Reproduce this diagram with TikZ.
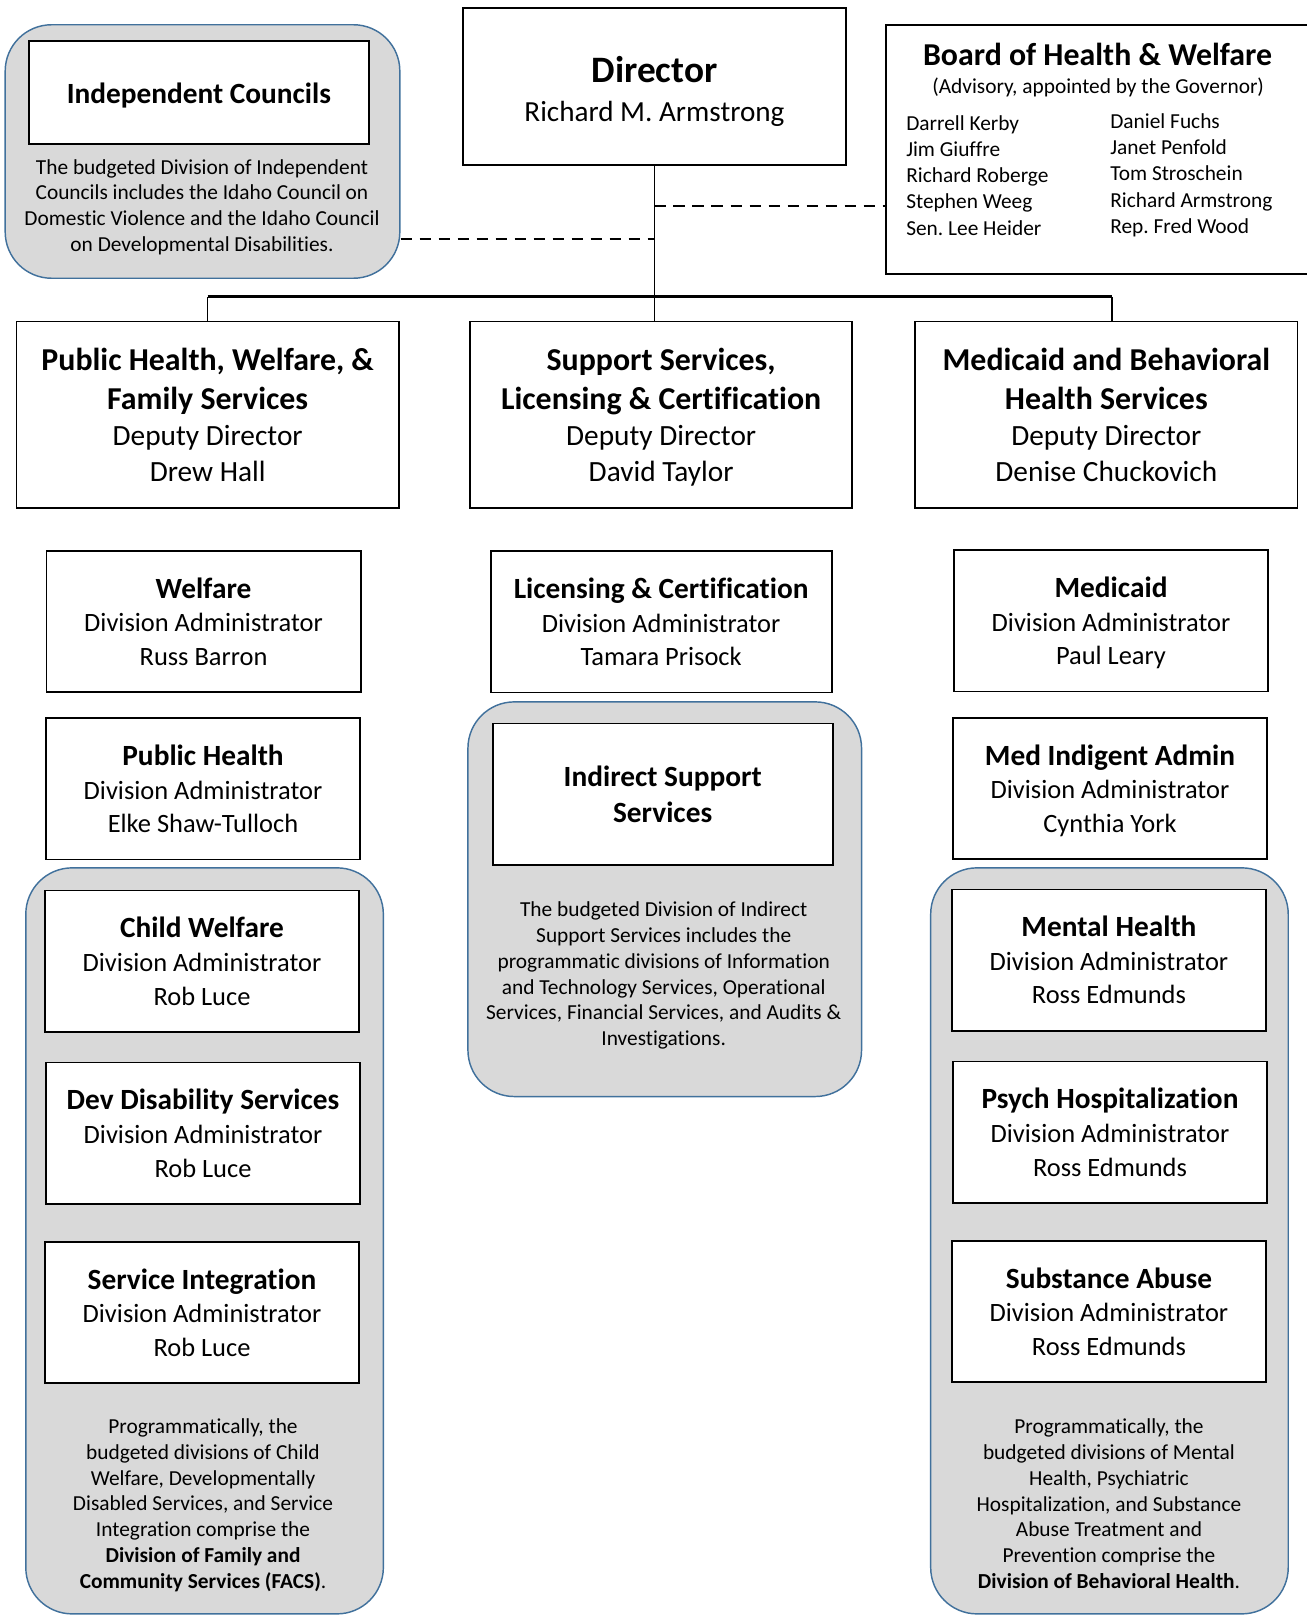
\documentclass[tikz,border=0pt]{standalone}
\usepackage{fontspec}
\setmainfont{Carlito}[Ligatures=NoCommon]
\frenchspacing
\usetikzlibrary{positioning}
\definecolor{grpfill}{HTML}{D9D9D9}
\definecolor{grpline}{HTML}{41719C}
\newcommand{\ptext}{\fontsize{11.8}{14.3}\selectfont}
\newcommand{\ubody}{\fontsize{14.6}{18.6}\selectfont}
\newcommand{\utitle}{\fontsize{16.2}{18.6}\selectfont\bfseries}
\newcommand{\dbody}{\fontsize{16.2}{20}\selectfont}
\newcommand{\dtitle}{\fontsize{17.6}{21.6}\selectfont\bfseries}
\tikzstyle{unit}=[rectangle, align=center, fill=white, draw=black, line width=1pt, minimum width=6.1cm, minimum height=2.74cm, inner sep=0pt, text depth=0pt, font=\ubody]
\tikzstyle{deputy}=[unit, minimum width=7.42cm, minimum height=3.62cm, font=\dbody]
\tikzstyle{group}=[rectangle, rounded corners=0.9cm, fill=grpfill, draw=grpline, line width=0.8pt, inner sep=0pt]
\tikzstyle{note}=[align=center, font=\ptext, inner sep=0pt]
\tikzstyle{link}=[draw=black, line width=0.9pt]
\tikzstyle{buslink}=[draw=black, line width=1.5pt]
\tikzstyle{adv}=[draw=black, line width=0.7pt, dash pattern=on 6.5pt off 4pt]

\begin{document}
\begin{tikzpicture}[x=0.02cm, y=-0.02cm]
    \useasboundingbox (0,0) rectangle (1268,1568);
    \clip (0,0) rectangle (1268,1568);

    % grey groups
    \node [group, minimum width=7.66cm, minimum height=4.92cm] (indgrp) at (196.5,147) {};
    \node [group, minimum width=7.64cm, minimum height=7.66cm] (isgrp) at (645,872.5) {};
    \node [group, minimum width=6.94cm, minimum height=14.48cm] (facsgrp) at (198.5,1204) {};
    \node [group, minimum width=6.94cm, minimum height=14.48cm] (bhgrp) at (1076.5,1204) {};

    % top row
    \node [unit, minimum width=6.6cm, minimum height=2cm, font=\utitle] (indc) at (193,90) {Independent Councils};
    \node [note] (indtxt) at (196,201) {The budgeted Division of Independent\\Councils includes the Idaho Council on\\Domestic Violence and the Idaho Council\\on Developmental Disabilities.};

    \node [unit, minimum width=7.44cm, minimum height=3.04cm, font={\fontsize{16.1}{21.8}\selectfont}] (dir) at (635,84) {{\fontsize{20.6}{22}\selectfont\bfseries\rule{0pt}{17pt}Director}\\Richard M. Armstrong};

    \node [unit, minimum width=8.6cm, minimum height=4.84cm] (board) at (1075,145) {};
    \node [inner sep=0pt, font=\dtitle] (boardttl) at (1065,53) {Board of Health \& Welfare};
    \node [note] (boardsub) at (1065.5,85) {(Advisory, appointed by the Governor)};
    \node [note, align=left, anchor=west, font={\fontsize{11.8}{14.5}\selectfont}] (boardl) at (879,170) {Darrell Kerby\\Jim Giuffre\\Richard Roberge\\Stephen Weeg\\Sen. Lee Heider};
    \node [note, align=left, anchor=west, font={\fontsize{11.8}{14.5}\selectfont}] (boardr) at (1077,170) {Daniel Fuchs\\Janet Penfold\\Tom Stroschein\\Richard Armstrong\\Rep. Fred Wood};

    % deputy directors
    \node [deputy] (pub) at (201.5,402.5) {{\dtitle Public Health, Welfare, \&}\\[1.5pt]{\dtitle Family Services}\\Deputy Director\\Drew Hall};
    \node [deputy] (sup) at (641.5,402.5) {{\dtitle Support Services,}\\[1.5pt]{\dtitle Licensing \& Certification}\\Deputy Director\\David Taylor};
    \node [deputy] (med) at (1073.5,402.5) {{\dtitle Medicaid and Behavioral}\\[1.5pt]{\dtitle Health Services}\\Deputy Director\\Denise Chuckovich};

    % left column
    \node [unit] (welf) at (197.5,603) {{\utitle Welfare}\\Division Administrator\\Russ Barron};
    \node [unit] (pubh) at (197,765.5) {{\utitle Public Health}\\Division Administrator\\Elke Shaw-Tulloch};
    \node [unit] (cw) at (196,932.5) {{\utitle Child Welfare}\\Division Administrator\\Rob Luce};
    \node [unit] (dds) at (197,1099.5) {{\utitle Dev Disability Services}\\Division Administrator\\Rob Luce};
    \node [unit] (si) at (196,1273.5) {{\utitle Service Integration}\\Division Administrator\\Rob Luce};
    \node [note] (facstxt) at (197,1460.5) {Programmatically, the\\budgeted divisions of Child\\Welfare, Developmentally\\Disabled Services, and Service\\Integration comprise the\\\textbf{Division of Family and}\\\textbf{Community Services (FACS)}.};

    % center column
    \node [unit, minimum width=6.62cm] (lic) at (641.5,603.5) {{\utitle Licensing \& Certification}\\Division Administrator\\Tamara Prisock};
    \node [unit, minimum width=6.6cm, font={\fontsize{16.2}{20}\selectfont\bfseries}] (iss) at (643,770.5) {Indirect Support\\Services};
    \node [note] (isstxt) at (644,946.5) {The budgeted Division of Indirect\\Support Services includes the\\programmatic divisions of Information\\and Technology Services, Operational\\Services, Financial Services, and Audits \&\\Investigations.};

    % right column
    \node [unit] (mcd) at (1078,602.5) {{\utitle Medicaid}\\Division Administrator\\Paul Leary};
    \node [unit] (mia) at (1077,765) {{\utitle Med Indigent Admin}\\Division Administrator\\Cynthia York};
    \node [unit] (mh) at (1076,931.5) {{\utitle Mental Health}\\Division Administrator\\Ross Edmunds};
    \node [unit] (ph) at (1077,1098.5) {{\utitle Psych Hospitalization}\\Division Administrator\\Ross Edmunds};
    \node [unit] (sa) at (1076,1272.5) {{\utitle Substance Abuse}\\Division Administrator\\Ross Edmunds};
    \node [note] (bhtxt) at (1076,1459) {Programmatically, the\\budgeted divisions of Mental\\Health, Psychiatric\\Hospitalization, and Substance\\Abuse Treatment and\\Prevention comprise the\\\textbf{Division of Behavioral Health}.};

    % connectors
    \coordinate (bus) at (0,288);
    \coordinate (brdjoin) at (635,200);
    \coordinate (indjoin) at (635,232);
    \draw [link] (dir.south) -- (dir.south |- sup.north);
    \draw [buslink] (pub.north |- bus) -- ([xshift=0.11cm]med.north |- bus);
    \draw [link] (pub.north |- bus) -- (pub.north);
    \draw [link] ([xshift=0.11cm]med.north |- bus) -- ([xshift=0.11cm]med.north);
    \draw [adv] (brdjoin) -- (board.west |- brdjoin);
    \draw [adv] (indgrp.east |- indjoin) -- (indjoin);
\end{tikzpicture}
\end{document}
